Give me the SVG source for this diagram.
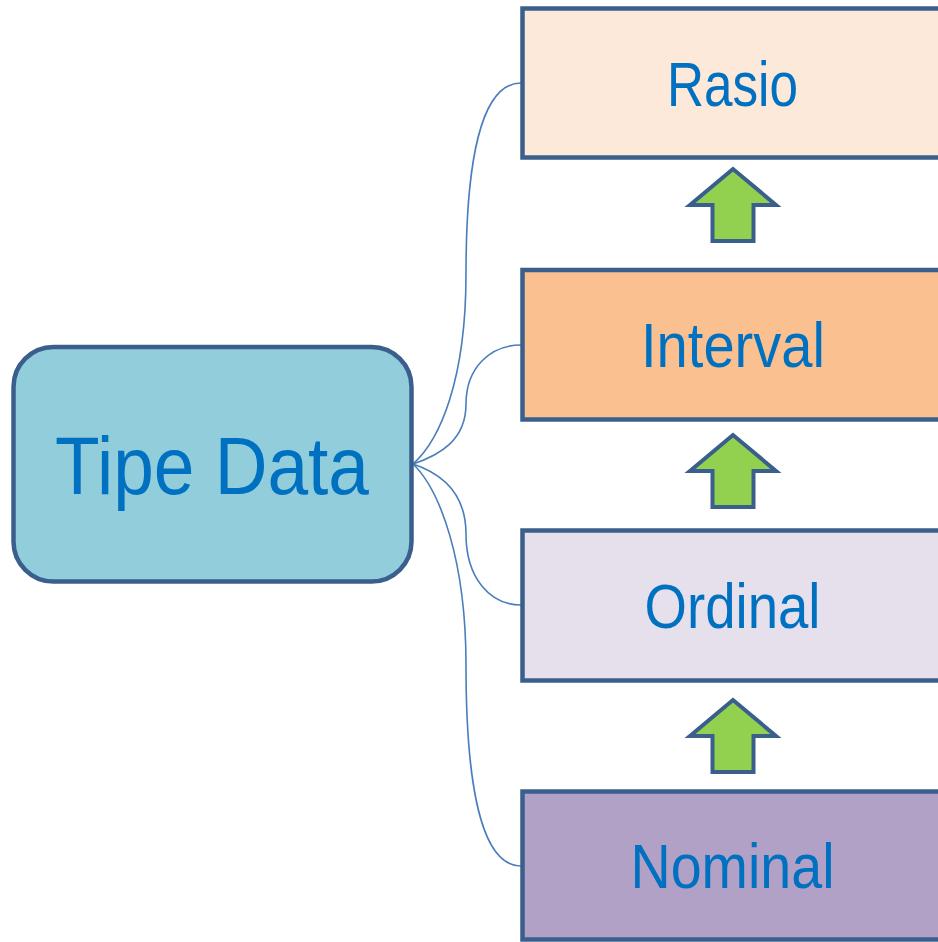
<svg xmlns="http://www.w3.org/2000/svg" width="938" height="942" viewBox="0 0 938 942">
  <style>
    .box { stroke: #3A5F8C; stroke-width: 4.5; }
    .lbl { font-family: "Liberation Sans", "DejaVu Sans", sans-serif; fill: #0070C0; text-anchor: middle; }
    .conn { fill: none; stroke: #4A7EBB; stroke-width: 1.6; }
    .arrow { fill: #92D050; stroke: #3A5F8C; stroke-width: 4; stroke-linejoin: miter; }
  </style>
  <defs>
    <path id="up" d="M0,2 L-43,38 L-20.5,38 L-20.5,74 L20.5,74 L20.5,38 L43,38 Z"/>
  </defs>
  <rect width="938" height="942" fill="#FFFFFF"/>

  <g id="connectors">
    <path class="conn" d="M413,464 C440,440 466,380 466,274 C466,165 480,83 521,83"/>
    <path class="conn" d="M413,464 C440,455 466,440 466,404 C466,368 490,345 521,345"/>
    <path class="conn" d="M413,464 C440,473 466,492 466,534 C466,578 490,605 521,605"/>
    <path class="conn" d="M413,464 C440,490 466,560 466,665 C466,780 480,866 521,866"/>
  </g>

  <g id="tipe-data">
    <rect class="box" x="13.5" y="347" width="398" height="234.5" rx="40" fill="#92CDDC"/>
    <text class="lbl" x="212" y="494" font-size="82" textLength="314" lengthAdjust="spacingAndGlyphs">Tipe Data</text>
  </g>

  <g id="rasio">
    <rect class="box" x="522.5" y="8.5" width="430" height="149" fill="#FDE9D9"/>
    <text class="lbl" x="732.5" y="106" font-size="63" textLength="131" lengthAdjust="spacingAndGlyphs">Rasio</text>
  </g>

  <g id="interval">
    <rect class="box" x="522.5" y="270" width="430" height="149.5" fill="#FAC090"/>
    <text class="lbl" x="733" y="367" font-size="63" textLength="184" lengthAdjust="spacingAndGlyphs">Interval</text>
  </g>

  <g id="ordinal">
    <rect class="box" x="522.5" y="530.5" width="430" height="150" fill="#E6E0EC"/>
    <text class="lbl" x="732.5" y="628" font-size="63" textLength="176" lengthAdjust="spacingAndGlyphs">Ordinal</text>
  </g>

  <g id="nominal">
    <rect class="box" x="522.5" y="791.5" width="430" height="148" fill="#B2A1C7"/>
    <text class="lbl" x="732.5" y="888" font-size="63" textLength="204" lengthAdjust="spacingAndGlyphs">Nominal</text>
  </g>

  <g id="arrows">
    <use href="#up" class="arrow" transform="translate(733,167)"/>
    <use href="#up" class="arrow" transform="translate(733,433)"/>
    <use href="#up" class="arrow" transform="translate(733,698)"/>
  </g>
</svg>
